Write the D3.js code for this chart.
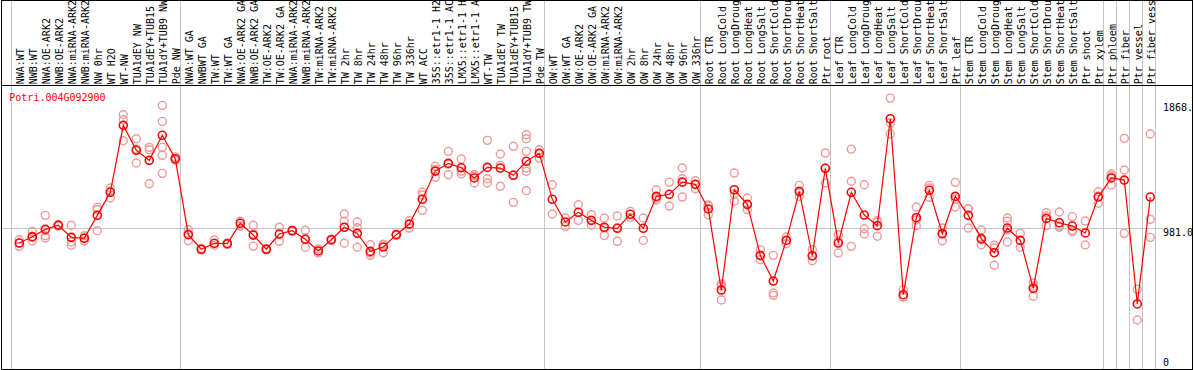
<!DOCTYPE html>
<html>
<head>
<meta charset="utf-8">
<script src="https://cdn.jsdelivr.net/npm/d3@7"></script>
<style>
  body { margin: 0; background: #fff; }
  text { font-family: "DejaVu Sans Mono", monospace; font-size: 10px; }
</style>
</head>
<body>
<div id="chart"></div>
<script>
// sample names, in drawing order
const samples = [
  "NWA:WT", "NWB:WT", "NWA:OE-ARK2", "NWB:OE-ARK2", "NWA:miRNA-ARK2", "NWB:miRNA-ARK2",
  "NW 0hr", "WT H2O", "WT-NW", "TUA1dEY NW", "TUA1dEY+TUB15 NW", "TUA1dY+TUB9 NW", "Pde NW",
  "NWA:WT GA", "NWBWT GA", "TW:WT", "TW:WT GA", "NWA:OE-ARK2 GA", "NWB:OE-ARK2 GA",
  "TW:OE-ARK2", "TW:OE-ARK2 GA", "NWA:miRNA-ARK2 GA", "NWB:miRNA-ARK2 GA", "TW:miRNA-ARK2",
  "TW:miRNA-ARK2 GA", "TW 2hr", "TW 8hr", "TW 24hr", "TW 48hr", "TW 96hr", "TW 336hr",
  "WT ACC", "35S::etr1-1 H2O", "35S::etr1-1 ACC", "LMX5::etr1-1 H2O", "LMX5::etr1-1 ACC",
  "WT-TW", "TUA1dEY TW", "TUA1dEY+TUB15 TW", "TUA1dY+TUB9 TW", "Pde TW",
  "OW:WT", "OW:WT GA", "OW:OE-ARK2", "OW:OE-ARK2 GA", "OW:miRNA-ARK2", "OW:miRNA-ARK2 GA",
  "OW 2hr", "OW 8hr", "OW 24hr", "OW 48hr", "OW 96hr", "OW 336hr",
  "Root CTR", "Root LongCold", "Root LongDrought", "Root LongHeat", "Root LongSalt",
  "Root ShortCold", "Root ShortDrought", "Root ShortHeat", "Root ShortSalt", "Ptr root",
  "Leaf CTR", "Leaf LongCold", "Leaf LongDrought", "Leaf LongHeat", "Leaf LongSalt",
  "Leaf ShortCold", "Leaf ShortDrought", "Leaf ShortHeat", "Leaf ShortSalt", "Ptr leaf",
  "Stem CTR", "Stem LongCold", "Stem LongDrought", "Stem LongHeat", "Stem LongSalt",
  "Stem ShortCold", "Stem ShortDrought", "Stem ShortHeat", "Stem ShortSalt", "Ptr shoot",
  "Ptr xylem", "Ptr phloem", "Ptr fiber", "Ptr vessel", "Ptr fiber vessel"
]

// labels are shown cut to this many characters
const labelChars = 14

// index of the first sample of every group (grey separators)
const groupStarts = [0, 13, 41, 53, 63, 73, 84, 85, 86, 87]

// mean expression per sample
const means = [
  870, 918, 973, 1004, 913, 906, 1079, 1253, 1758, 1570, 1494, 1683, 1506,
  933, 823, 868, 865, 1019, 930, 823, 938, 963, 898, 810, 895, 989, 943, 807,
  840, 933, 1013, 1200, 1413, 1471, 1438, 1361, 1441, 1436, 1381, 1487, 1547,
  1200, 1029, 1102, 1041, 989, 981, 1087, 981, 1222, 1238, 1330, 1313,
  1127, 515, 1272, 1162, 777, 583, 890, 1260, 774, 1434,
  870, 1253, 1081, 1001, 1808, 480, 1061, 1268, 940, 1222,
  1079, 903, 797, 983, 890, 528, 1056, 1023, 998, 946, 1217,
  1361, 1345, 410, 1217
]

// replicate values per sample
const replicates = [
  [895, 845, 870], [958, 913, 885], [1079, 925, 908], [1010, 1000, 1002], [1004, 878, 853],
  [925, 908, 885], [1139, 1121, 963], [1285, 1210, 1264], [1838, 1800, 1642], [1657, 1474, 1580],
  [1592, 1574, 1317], [1909, 1788, 1592, 1532, 1396], [1520, 1506, 1495],
  [970, 887, 940], [830, 818], [853, 893], [870, 860], [1034, 998], [1004, 847, 938],
  [828, 818], [989, 883], [968, 958], [966, 838, 900], [795, 825], [900, 890],
  [1089, 1034, 868], [1029, 985, 838], [857, 777, 795], [862, 797, 857], [938, 928],
  [1038, 983], [1253, 1117, 1232], [1449, 1366, 1428], [1562, 1385, 1466], [1504, 1391, 1413],
  [1385, 1323, 1376], [1645, 1355, 1323], [1542, 1456, 1298], [1600, 1177, 1383],
  [1687, 1657, 1562, 1436, 1411, 1265], [1574, 1511],
  [1310, 1089], [1059, 996], [1159, 1041], [1084, 1004], [1059, 928, 983], [1074, 883, 983],
  [1109, 1064], [1059, 890], [1270, 1195, 1210], [1330, 1149], [1436, 1355, 1217], [1340, 1280],
  [1149, 1084, 1157], [561, 440, 546], [1398, 1185, 1240], [1210, 1121, 1157], [820, 744, 772],
  [777, 493, 475], [865, 915], [1305, 1222, 1255], [820, 737, 772], [1549, 1323, 1434],
  [933, 795, 885], [1579, 1336, 845], [1310, 978, 938], [1038, 921, 1029], [1964, 1776, 1693],
  [518, 463, 463], [1142, 1001, 1044], [1305, 1215, 1285], [887, 983, 946], [1328, 1142, 1202],
  [1129, 983, 1127], [968, 857, 893], [853, 702, 832], [1059, 1034, 878, 968], [943, 838],
  [568, 468, 546], [1099, 1001, 1074], [1104, 989, 998], [1069, 955, 968], [1036, 855],
  [1257, 1170, 1225], [1391, 1308, 1376], [1660, 1421, 943], [521, 289], [1693, 1049, 913]
]

const geneName = "Potri.004G092900"
const axisMax = 1868
const axisMid = 981
const axisTicks = [
  {value: axisMax, label: "1868.", dy: 0},
  {value: axisMid, label: "981.0", dy: 7.7},
  {value: 0, label: "0", dy: 7.4}
]

const width = 1194
const height = 370
const headerBottom = 85.5
const labelX = 1163

const svg = d3.select("#chart")
  .append("svg")
    .attr("width", width)
    .attr("height", height)

const x = d3.scalePoint()
  .domain(samples)
  .range([19.3, 1150.3])

const y = d3.scaleLinear()
  .domain([0, axisMax])
  .range([358.3, 110.8])

const step = x.step()

// grey group separators
let sepX = groupStarts.map(i => x(samples[i]) - 8.3)
sepX.push(x(samples[samples.length - 1]) + step - 8.3)
svg.selectAll(".sep")
  .data(sepX)
  .enter()
  .append("line")
    .attr("class", "sep")
    .attr("x1", d => Math.round(d) + 0.5)
    .attr("x2", d => Math.round(d) + 0.5)
    .attr("y1", 0)
    .attr("y2", height)
    .attr("stroke", "#c4c4c4")
    .attr("shape-rendering", "crispEdges")

// mid gridline
svg.append("line")
  .attr("x1", 2)
  .attr("x2", labelX)
  .attr("y1", Math.round(y(axisMid)) + 0.5)
  .attr("y2", Math.round(y(axisMid)) + 0.5)
  .attr("stroke", "#c4c4c4")
  .attr("shape-rendering", "crispEdges")

// sample labels, rotated and cut like the original
svg.selectAll(".sampleLabel")
  .data(samples)
  .enter()
  .append("text")
    .attr("class", "sampleLabel")
    .attr("transform", d => "translate(" + (x(d) + 4.5) + "," + (headerBottom - 1.2) + ") rotate(-90)")
    .attr("fill", "black")
    .text(d => d.slice(0, labelChars))

// header and border
svg.append("line")
  .attr("x1", 1)
  .attr("x2", 1193)
  .attr("y1", headerBottom)
  .attr("y2", headerBottom)
  .attr("stroke", "black")
  .attr("shape-rendering", "crispEdges")

svg.append("rect")
  .attr("x", 1.5)
  .attr("y", 0.5)
  .attr("width", 1191)
  .attr("height", 369)
  .attr("fill", "none")
  .attr("stroke", "black")
  .attr("shape-rendering", "crispEdges")

// gene name
svg.append("text")
  .attr("x", 9.3)
  .attr("y", 100.5)
  .attr("fill", "red")
  .text(geneName)

// value labels on the right
svg.selectAll(".valueLabel")
  .data(axisTicks)
  .enter()
  .append("text")
    .attr("class", "valueLabel")
    .attr("x", labelX)
    .attr("y", d => y(d.value) + d.dy)
    .attr("fill", "black")
    .text(d => d.label)

// replicate circles
let repPoints = []
replicates.forEach(function(reps, i){
  reps.forEach(function(v){
    repPoints.push({sample: samples[i], value: v})
  })
})
svg.selectAll(".rep")
  .data(repPoints)
  .enter()
  .append("circle")
    .attr("class", "rep")
    .attr("cx", d => x(d.sample))
    .attr("cy", d => y(d.value))
    .attr("r", 4)
    .attr("fill", "none")
    .attr("stroke", "#ee9a9a")
    .attr("stroke-width", 1.4)

// mean line
const meanLine = d3.line()
  .x((d, i) => x(samples[i]))
  .y(d => y(d))
svg.append("path")
  .attr("fill", "none")
  .attr("stroke", "red")
  .attr("stroke-width", 1.2)
  .attr("d", meanLine(means))

// mean circles
svg.selectAll(".mean")
  .data(means)
  .enter()
  .append("circle")
    .attr("class", "mean")
    .attr("cx", (d, i) => x(samples[i]))
    .attr("cy", d => y(d))
    .attr("r", 4)
    .attr("fill", "none")
    .attr("stroke", "red")
    .attr("stroke-width", 1.6)
</script>
</body>
</html>
